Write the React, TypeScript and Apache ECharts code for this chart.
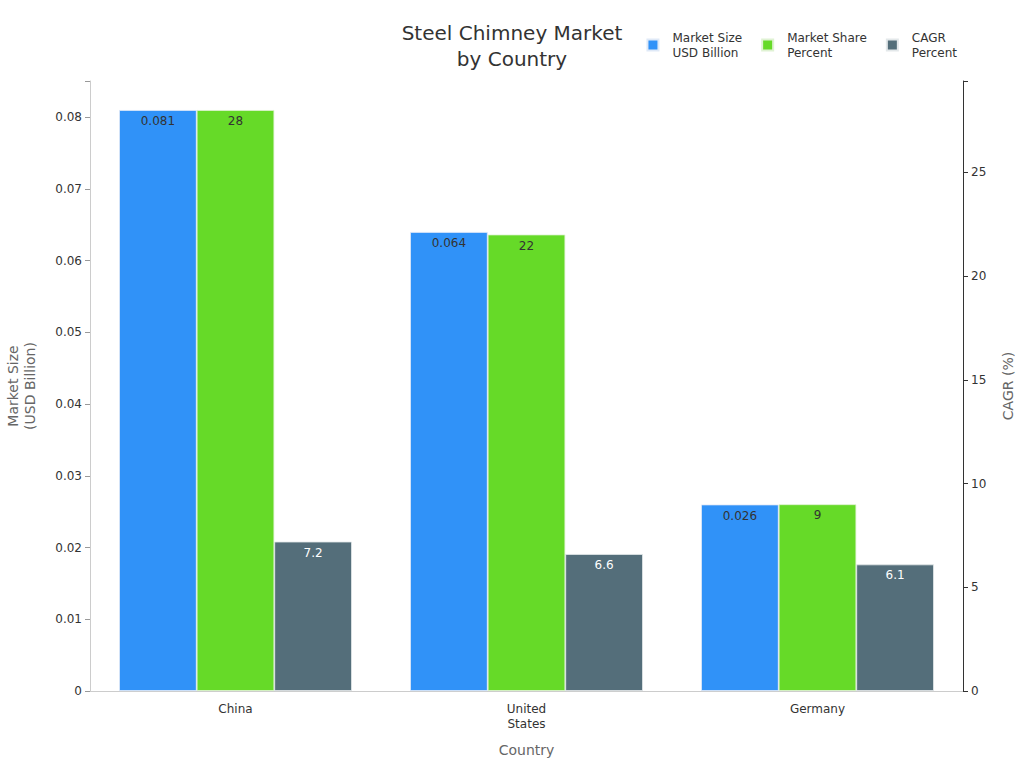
import React, { useEffect, useRef } from "react";
import * as echarts from "echarts";

const countries = ["China", "United\nStates", "Germany"];
const marketSize = [0.081, 0.064, 0.026];
const marketShare = [28, 22, 9];
const cagr = [7.2, 6.6, 6.1];

const FONT = "DejaVu Sans";

export default function App() {
  const ref = useRef<HTMLDivElement>(null);

  useEffect(() => {
    if (!ref.current) return;
    const chart = echarts.init(ref.current, null, { renderer: "svg" });
    const labelDark = {
      show: true,
      position: "insideTop" as const,
      color: "#333",
      fontSize: 12,
      fontFamily: FONT,
    };
    chart.setOption({
      animation: false,
      textStyle: { fontFamily: FONT },
      title: {
        text: "Steel Chimney Market\nby Country",
        left: "center",
        top: 15,
        textStyle: { fontSize: 20, fontWeight: "normal", color: "#333", lineHeight: 26, fontFamily: FONT },
      },
      legend: {
        right: 62,
        top: 25,
        itemWidth: 11,
        itemHeight: 11,
        itemGap: 19,
        textStyle: { fontSize: 12, color: "#333", lineHeight: 15, fontFamily: FONT, padding: [0, 0, 0, 9] },
        data: [
          { name: "Market Size\nUSD Billion", icon: "rect" },
          { name: "Market Share\nPercent", icon: "rect" },
          { name: "CAGR\nPercent", icon: "rect" },
        ],
      },
      grid: { left: 90, right: 61, top: 81, bottom: 77, outerBoundsMode: "none", containLabel: false },
      xAxis: {
        type: "category",
        data: countries,
        name: "Country",
        nameLocation: "middle",
        nameGap: 52,
        nameTextStyle: { fontSize: 14, color: "#666" },
        axisLine: { lineStyle: { color: "#ccc" } },
        axisTick: { alignWithLabel: true, lineStyle: { color: "#999" } },
        axisLabel: { color: "#333", fontSize: 12, lineHeight: 15, margin: 10 },
      },
      yAxis: [
        {
          type: "value",
          min: 0,
          max: (v: { max: number }) => v.max * 1.05,
          interval: 0.01,
          name: "Market Size\n(USD Billion)",
          nameLocation: "middle",
          nameGap: 52,
          nameTextStyle: { fontSize: 14, color: "#666", lineHeight: 17 },
          axisLine: { show: true, lineStyle: { color: "#ccc" } },
          axisTick: { show: true, lineStyle: { color: "#999" } },
          axisLabel: {
            color: "#333",
            fontSize: 12,
            formatter: (v: number) => (v > 0.0805 ? "" : String(Math.round(v * 100) / 100)),
          },
          splitLine: { show: false },
        },
        {
          type: "value",
          min: 0,
          max: (v: { max: number }) => v.max * 1.05,
          interval: 5,
          name: "CAGR (%)",
          nameLocation: "middle",
          nameGap: 38,
          nameTextStyle: { fontSize: 14, color: "#666" },
          axisLine: { show: true, lineStyle: { color: "#333" } },
          axisTick: { show: true, lineStyle: { color: "#333" } },
          axisLabel: {
            color: "#333",
            fontSize: 12,
            formatter: (v: number) => (v > 25.5 ? "" : String(v)),
          },
          splitLine: { show: false },
        },
      ],
      series: [
        {
          name: "Market Size\nUSD Billion",
          type: "bar",
          yAxisIndex: 0,
          data: marketSize,
          barGap: "0%",
          barCategoryGap: "20%",
          itemStyle: { color: "#3092f8", borderColor: "#dfe9f7", borderWidth: 0.8 },
          label: labelDark,
        },
        {
          name: "Market Share\nPercent",
          type: "bar",
          yAxisIndex: 1,
          data: marketShare,
          barGap: "0%",
          barCategoryGap: "20%",
          itemStyle: { color: "#66da28", borderColor: "#dff2d3", borderWidth: 0.8 },
          label: labelDark,
        },
        {
          name: "CAGR\nPercent",
          type: "bar",
          yAxisIndex: 1,
          data: cagr,
          barGap: "0%",
          barCategoryGap: "20%",
          itemStyle: { color: "#546e7a", borderColor: "#e3e8ea", borderWidth: 0.8 },
          label: { ...labelDark, color: "#fff" },
        },
      ],
    });
    return () => chart.dispose();
  }, []);

  return (
    <div
      ref={ref}
      style={{ position: "fixed", left: 0, top: 0, width: 1024, height: 768, background: "#fff" }}
    />
  );
}
